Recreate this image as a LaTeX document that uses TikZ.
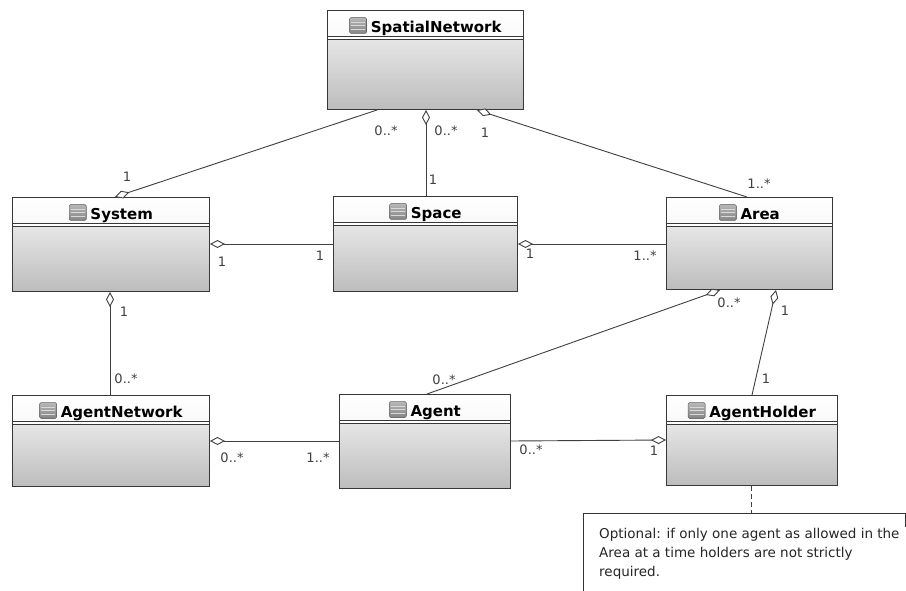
\documentclass[tikz,border=0pt]{standalone}
\usepackage{fontspec}
\setmainfont{DejaVu Sans}
\usetikzlibrary{arrows.meta}

\colorlet{class edge}{black!78}
\colorlet{head top}{white}
\colorlet{head bottom}{black!9}
\colorlet{body top}{black!10}
\colorlet{body bottom}{black!26}
\def\clsicon{\tikz[x=1pt,y=1pt,baseline=0pt]{
    \fill[rounded corners=1.5pt, top color=black!28, bottom color=black!48, draw=black!58] (0,-1) rectangle (17,15);
    \foreach \s in {3.5,7,10.5} \draw[black!15, line width=0.8pt] (1.5,\s) -- (15.5,\s);}}
\tikzset{classbox/.style 2 args={draw=class edge, line width=1pt, anchor=north west, inner sep=0pt,
        minimum width=#1, text height=22pt, text depth={#2-22}, font=\fontsize{15}{18}\selectfont\bfseries,
        path picture={
            \fill[top color=head top, bottom color=head bottom] (path picture bounding box.north west) rectangle ([yshift=-26pt]path picture bounding box.north east);
            \shade[top color=body top, bottom color=body bottom] ([yshift=-29pt]path picture bounding box.north west) rectangle (path picture bounding box.south east);
            \draw[class edge, line width=1pt] ([yshift=-26pt]path picture bounding box.north west) -- ([yshift=-26pt]path picture bounding box.north east);
            \draw[class edge, line width=1pt] ([yshift=-29pt]path picture bounding box.north west) -- ([yshift=-29pt]path picture bounding box.north east);}},
    assoc/.style={draw=black!75, line width=0.9pt},
    aggr/.style={assoc, {Diamond[fill=white, length=15pt, width=8pt]}-},
    lbl/.style={inner sep=0pt, text=black!75, font=\fontsize{13}{14}\selectfont},
    notebox/.style={draw=black!80, line width=0.9pt}}

\begin{document}
\begin{tikzpicture}[x=1pt, y=-1pt]
    \useasboundingbox[fill=white] (0,0) rectangle (906,591);
    % classes
    \node[classbox={196}{99}] (spatial) at (327,10) {\clsicon\hspace{4pt}SpatialNetwork};
    \node[classbox={197}{94}] (sys) at (12,197) {\clsicon\hspace{4pt}System};
    \node[classbox={184}{95}] (space) at (333,196) {\clsicon\hspace{4pt}Space};
    \node[classbox={166}{92}] (area) at (666,197) {\clsicon\hspace{4pt}Area};
    \node[classbox={197}{91}] (anet) at (12,395) {\clsicon\hspace{4pt}AgentNetwork};
    \node[classbox={171}{94}] (agent) at (339,394) {\clsicon\hspace{4pt}Agent};
    \node[classbox={171}{90}] (holder) at (666,395) {\clsicon\hspace{4pt}AgentHolder};
    % note
    \node[anchor=north west, inner xsep=16pt, inner ysep=15.5pt, align=left, text=black!85,
        font=\fontsize{13.5}{19}\selectfont] (note) at (583,513)
        {Optional: if only one agent as allowed in the\\Area at a time holders are not strictly\\required.};
    \draw[notebox] ([yshift=-90pt]note.north west) -- (note.north west) -- ++(322,0) -- ++(0,14);
    \draw[assoc, dash pattern=on 5pt off 3pt] ([xshift=85pt]holder.south west) -- ([xshift=85pt]holder.south west |- note.north);
    % associations
    \draw[aggr] ([xshift=103pt]sys.north west) -- ([xshift=50pt]spatial.south west);
    \draw[aggr] ([xshift=99pt]spatial.south west) -- ([xshift=93pt]space.north west);
    \draw[aggr] ([xshift=150pt]spatial.south west) -- ([xshift=81pt]area.north west);
    \draw[aggr] ([yshift=-47pt]sys.north east) -- ([yshift=-48pt]space.north west);
    \draw[aggr] ([yshift=-48pt]space.north east) -- ([yshift=-47pt]area.north west);
    \draw[aggr] ([xshift=98pt]sys.south west) -- ([xshift=98pt]anet.north west);
    \draw[aggr] ([xshift=54pt]area.south west) -- ([xshift=88pt]agent.north west);
    \draw[aggr] ([xshift=110pt]area.south west) -- ([xshift=86pt]holder.north west);
    \draw[aggr] ([yshift=-46pt]anet.north east) -- ([yshift=-47pt]agent.north west);
    \draw[aggr] ([yshift=-45pt]holder.north west) -- ([yshift=-47pt]agent.north east);
    % multiplicities
    \node[lbl] (m1a) at (386,131) {0..*};
    \node[lbl] (m1b) at (127,177) {1};
    \node[lbl] (m2a) at (446,131) {0..*};
    \node[lbl] (m2b) at (433,180) {1};
    \node[lbl] (m3a) at (485,133) {1};
    \node[lbl] (m3b) at (759,184) {1..*};
    \node[lbl] (m4a) at (222,262) {1};
    \node[lbl] (m4b) at (320,256) {1};
    \node[lbl] (m5a) at (530,254) {1};
    \node[lbl] (m5b) at (645,256) {1..*};
    \node[lbl] (m6a) at (124,312) {1};
    \node[lbl] (m6b) at (126,379) {0..*};
    \node[lbl] (m7a) at (729,303) {0..*};
    \node[lbl] (m7b) at (444,380) {0..*};
    \node[lbl] (m8a) at (785,311) {1};
    \node[lbl] (m8b) at (766,379) {1};
    \node[lbl] (m9a) at (232,458) {0..*};
    \node[lbl] (m9b) at (318,458) {1..*};
    \node[lbl] (m10a) at (531,450) {0..*};
    \node[lbl] (m10b) at (654,451) {1};
\end{tikzpicture}
\end{document}
